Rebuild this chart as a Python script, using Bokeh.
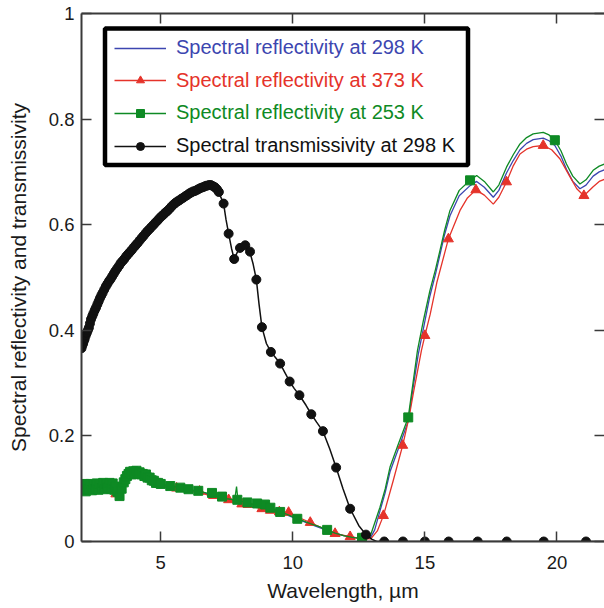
from bokeh.plotting import figure
from bokeh.models import (LinearAxis, FixedTicker, Legend, LegendItem, BoxAnnotation,
                          Range1d, ColumnDataSource)
from bokeh.embed import file_html
from bokeh.resources import INLINE

FONT = "Liberation Sans"

# ---------------- data ----------------
x_ticks = [5, 10, 15, 20]
x_tick_labels = ["5", "10", "15", "20"]
y_ticks = [0, 0.2, 0.4, 0.6, 0.8, 1.0]
y_tick_labels = ["0", "0.2", "0.4", "0.6", "0.8", "1"]

labels = ["Spectral reflectivity at 298 K",
          "Spectral reflectivity at 373 K",
          "Spectral reflectivity at 253 K",
          "Spectral transmissivity at 298 K"]

# reflectivity 298 K (blue line)
r298_x = [2.0, 2.5, 3.0, 3.4, 3.47, 3.55, 3.75, 4.1, 4.5, 5.0, 5.62, 6.25, 6.88, 7.5, 8.14, 8.77,
          9.4, 10.03, 10.66, 11.29, 11.92, 12.55, 12.93, 13.1, 13.3, 13.5, 13.68, 14.0, 14.37,
          14.55, 14.75, 14.97, 15.19, 15.4, 15.57, 15.75, 15.95, 16.3, 16.71, 16.96, 17.25, 17.59,
          17.8, 18.09, 18.35, 18.6, 18.85, 19.1, 19.48, 19.7, 19.92, 20.15, 20.36, 20.6, 20.87,
          21.1, 21.37, 21.6, 21.8]
r298_y = [0.103, 0.104, 0.107, 0.104, 0.090, 0.104, 0.126, 0.130, 0.124, 0.108, 0.102, 0.096,
          0.089, 0.080, 0.074, 0.067, 0.058, 0.045, 0.033, 0.021, 0.011, 0.006, 0.006, 0.022,
          0.058, 0.093, 0.132, 0.176, 0.228, 0.290, 0.355, 0.410, 0.465, 0.506, 0.543, 0.582,
          0.617, 0.655, 0.674, 0.682, 0.671, 0.652, 0.665, 0.698, 0.722, 0.742, 0.754, 0.761,
          0.764, 0.759, 0.750, 0.730, 0.705, 0.682, 0.668, 0.675, 0.692, 0.700, 0.704]

# reflectivity 373 K (red line + triangles)
r373_x = [2.0, 2.3, 2.6, 2.9, 3.2, 3.35, 3.43, 3.55, 3.75, 3.9, 4.1, 4.3, 4.5, 4.75, 5.0, 5.3,
          5.62, 5.9, 6.25, 6.47, 6.88, 7.2, 7.57, 7.85, 8.07, 8.4, 8.83, 9.15, 9.49, 9.84, 10.25,
          10.66, 11.1, 11.6, 12.17, 12.6, 12.95, 13.2, 13.43, 13.8, 14.16, 14.4, 14.56, 14.87,
          15.0, 15.2, 15.45, 15.89, 16.33, 16.6, 16.93, 17.25, 17.59, 17.8, 18.09, 18.35, 18.6,
          18.85, 19.1, 19.48, 19.8, 20.11, 20.5, 20.75, 21.02, 21.37, 21.6, 21.8]
r373_y = [0.103, 0.105, 0.104, 0.107, 0.108, 0.106, 0.090, 0.103, 0.126, 0.129, 0.130, 0.128,
          0.124, 0.116, 0.108, 0.104, 0.101, 0.098, 0.094, 0.094, 0.086, 0.081, 0.077, 0.074,
          0.071, 0.067, 0.062, 0.059, 0.056, 0.055, 0.045, 0.036, 0.026, 0.015, 0.009, 0.005,
          0.005, 0.020, 0.049, 0.115, 0.182, 0.235, 0.280, 0.362, 0.390, 0.430, 0.490, 0.573,
          0.627, 0.650, 0.666, 0.656, 0.639, 0.652, 0.681, 0.712, 0.734, 0.743, 0.748, 0.750,
          0.742, 0.725, 0.690, 0.668, 0.655, 0.672, 0.682, 0.686]
r373_mk_x = [2.1, 2.5, 2.9, 3.3, 5.0, 5.6, 6.47, 7.0, 7.57, 8.07, 8.31, 8.83, 9.15, 9.49, 9.84,
             10.66, 11.6, 12.17, 13.43, 14.16, 15.0, 15.89, 16.93, 18.09, 19.48, 21.02]
r373_mk_y = [0.104, 0.106, 0.107, 0.090, 0.108, 0.101, 0.095, 0.087, 0.079, 0.071, 0.070, 0.062,
             0.059, 0.056, 0.055, 0.036, 0.015, 0.009, 0.049, 0.182, 0.390, 0.573, 0.666, 0.681,
             0.750, 0.655]

# reflectivity 253 K (green line + squares)
r253_x = [2.0, 2.1, 2.2, 2.3, 2.4, 2.5, 2.6, 2.7, 2.8, 2.9, 3.0, 3.1, 3.2, 3.3, 3.4, 3.47, 3.55,
          3.65, 3.75, 3.9, 4.1, 4.3, 4.5, 4.75, 5.0, 5.3, 5.62, 5.9, 6.25, 6.55, 6.88, 7.2, 7.5,
          7.8, 7.87, 7.92, 8.0, 8.14, 8.45, 8.77, 8.9, 8.97, 9.1, 9.4, 9.7, 10.03, 10.35, 10.66,
          11.0, 11.29, 11.6, 11.92, 12.25, 12.55, 12.93, 13.1, 13.3, 13.5, 13.68, 14.0, 14.37,
          14.55, 14.72, 14.95, 15.19, 15.4, 15.57, 15.75, 15.95, 16.3, 16.71, 16.96, 17.25, 17.59,
          17.8, 18.09, 18.35, 18.6, 18.85, 19.1, 19.48, 19.7, 19.92, 20.15, 20.36, 20.6, 20.87,
          21.1, 21.37, 21.6, 21.8]
r253_y = [0.104, 0.100, 0.106, 0.101, 0.105, 0.103, 0.107, 0.104, 0.108, 0.105, 0.108, 0.106,
          0.109, 0.107, 0.104, 0.086, 0.104, 0.118, 0.127, 0.130, 0.131, 0.129, 0.125, 0.117,
          0.109, 0.106, 0.103, 0.100, 0.097, 0.094, 0.090, 0.085, 0.081, 0.079, 0.104, 0.080,
          0.077, 0.075, 0.071, 0.068, 0.076, 0.066, 0.064, 0.059, 0.053, 0.046, 0.040, 0.034,
          0.028, 0.022, 0.016, 0.011, 0.008, 0.006, 0.010, 0.035, 0.065, 0.100, 0.141, 0.185,
          0.235, 0.300, 0.362, 0.420, 0.475, 0.515, 0.551, 0.590, 0.627, 0.665, 0.684, 0.693,
          0.682, 0.662, 0.675, 0.709, 0.733, 0.753, 0.765, 0.772, 0.775, 0.770, 0.760, 0.740,
          0.715, 0.692, 0.677, 0.685, 0.703, 0.711, 0.715]
r253_mk_x = [2.0, 2.05, 2.1, 2.16, 2.22, 2.28, 2.34, 2.4, 2.46, 2.52, 2.58, 2.64, 2.7, 2.76, 2.82,
             2.88, 2.94, 3.0, 3.06, 3.12, 3.18, 3.24, 3.3, 3.36, 3.44, 3.52, 3.6, 3.66, 3.72,
             3.78, 3.84, 3.9, 3.96, 4.02, 4.08, 4.14, 4.2, 4.26, 4.32, 4.38, 4.44, 4.5, 4.58,
             4.66, 4.74, 4.82, 4.9, 5.0, 5.36, 5.74, 6.05, 6.42, 6.94, 7.32, 7.9, 8.28, 8.65,
             8.95, 9.15, 9.52, 10.17, 11.3, 12.62, 14.37, 16.71, 19.92]
r253_mk_y = [0.106, 0.097, 0.109, 0.095, 0.108, 0.099, 0.109, 0.097, 0.108, 0.099, 0.110, 0.098,
             0.109, 0.101, 0.111, 0.099, 0.109, 0.102, 0.111, 0.100, 0.110, 0.098, 0.104, 0.094,
             0.086, 0.100, 0.112, 0.118, 0.124, 0.128, 0.132, 0.127, 0.133, 0.128, 0.134, 0.129,
             0.131, 0.127, 0.128, 0.124, 0.127, 0.121, 0.121, 0.116, 0.115, 0.111, 0.111, 0.109,
             0.105, 0.102, 0.099, 0.096, 0.092, 0.085, 0.079, 0.074, 0.072, 0.070, 0.064, 0.056,
             0.043, 0.022, 0.007, 0.235, 0.684, 0.760]

# transmissivity 298 K (black line + circles)
t298_x = [2.0, 2.1, 2.2, 2.34, 2.5, 2.65, 2.84, 3.0, 3.2, 3.47, 3.7, 3.9, 4.1, 4.35, 4.6, 4.86,
          5.1, 5.35, 5.62, 5.9, 6.25, 6.5, 6.81, 7.0, 7.13, 7.25, 7.38, 7.47, 7.57, 7.68, 7.78,
          7.9, 8.01, 8.2, 8.36, 8.5, 8.62, 8.72, 8.83, 9.0, 9.17, 9.35, 9.52, 9.7, 9.88, 10.05,
          10.25, 10.5, 10.7, 10.9, 11.14, 11.4, 11.64, 11.9, 12.17, 12.5, 12.77, 13.0, 13.18,
          13.46, 14.17, 15.0, 15.9, 17.0, 18.1, 19.5, 21.1, 21.8]
t298_y = [0.366, 0.385, 0.400, 0.419, 0.438, 0.455, 0.475, 0.490, 0.505, 0.526, 0.540, 0.552,
          0.564, 0.580, 0.595, 0.608, 0.620, 0.633, 0.646, 0.655, 0.665, 0.670, 0.674, 0.672,
          0.665, 0.655, 0.640, 0.610, 0.583, 0.555, 0.535, 0.548, 0.557, 0.561, 0.551, 0.525,
          0.496, 0.450, 0.406, 0.375, 0.359, 0.348, 0.337, 0.320, 0.303, 0.290, 0.277, 0.258,
          0.241, 0.226, 0.209, 0.175, 0.140, 0.100, 0.062, 0.030, 0.013, 0.004, 0.0, 0.0, 0.0,
          0.0, 0.0, 0.0, 0.0, 0.0, 0.0, 0.0]
t298_mk_x = [2.0, 2.03, 2.06, 2.09, 2.12, 2.16, 2.2, 2.24, 2.28, 2.32, 2.36, 2.41, 2.45, 2.5,
             2.55, 2.6, 2.65, 2.7, 2.75, 2.8, 2.86, 2.92, 2.98, 3.04, 3.1, 3.16, 3.22, 3.28,
             3.35, 3.42, 3.48, 3.55, 3.62, 3.69, 3.76, 3.83, 3.9, 3.98, 4.05, 4.12, 4.2, 4.28,
             4.35, 4.43, 4.5, 4.58, 4.65, 4.73, 4.8, 4.88, 4.95, 5.03, 5.1, 5.18, 5.25, 5.33,
             5.4, 5.48, 5.55, 5.63, 5.7, 5.78, 5.85, 5.93, 6.0, 6.08, 6.15, 6.23, 6.3, 6.38,
             6.45, 6.53, 6.6, 6.68, 6.75, 6.83, 6.9, 6.98, 7.05, 7.13, 7.2, 7.38, 7.57, 7.78,
             8.0, 8.2, 8.38, 8.62, 8.83, 9.17, 9.52, 9.88, 10.25, 10.7, 11.14, 11.64, 12.17,
             12.77, 13.46, 14.17, 15.0, 15.9, 17.0, 18.1, 19.5, 21.1]
t298_mk_y = [0.366, 0.371, 0.375, 0.380, 0.384, 0.390, 0.395, 0.400, 0.405, 0.413, 0.421, 0.427,
             0.432, 0.438, 0.443, 0.449, 0.455, 0.461, 0.466, 0.471, 0.477, 0.483, 0.488, 0.493,
             0.497, 0.502, 0.507, 0.512, 0.517, 0.522, 0.527, 0.531, 0.535, 0.540, 0.544, 0.548,
             0.552, 0.557, 0.561, 0.565, 0.570, 0.575, 0.579, 0.584, 0.588, 0.592, 0.596, 0.600,
             0.604, 0.608, 0.612, 0.616, 0.619, 0.623, 0.626, 0.630, 0.634, 0.638, 0.641, 0.644,
             0.646, 0.649, 0.651, 0.654, 0.656, 0.659, 0.661, 0.663, 0.664, 0.666, 0.668, 0.670,
             0.671, 0.673, 0.674, 0.675, 0.675, 0.673, 0.671, 0.667, 0.662, 0.640, 0.583, 0.535,
             0.556, 0.561, 0.549, 0.496, 0.406, 0.359, 0.337, 0.303, 0.277, 0.241, 0.209, 0.140,
             0.062, 0.013, 0.0, 0.0, 0.0, 0.0, 0.0, 0.0, 0.0, 0.0]

# ---------------- styling ----------------
BLUE = "#3c46b0"
RED = "#e5332a"
GREEN = "#0e8a24"
BLACK = "#111111"
AXIS = "#3a3a3a"

p = figure(width=604, height=604, x_range=Range1d(2, 21.8), y_range=Range1d(0, 1),
           output_backend="svg", toolbar_location=None,
           min_border_left=81, min_border_right=0, min_border_top=13, min_border_bottom=63)
p.outline_line_color = None
p.xgrid.grid_line_color = None
p.ygrid.grid_line_color = None
p.background_fill_color = "white"
p.border_fill_color = "white"

def style_axis(ax, ticks, tick_labels, show_labels=True, line=True):
    ax.ticker = FixedTicker(ticks=ticks)
    ax.major_label_overrides = dict(zip(ticks, tick_labels))
    ax.major_tick_in = 10
    ax.major_tick_out = 0
    ax.minor_tick_in = 0
    ax.minor_tick_out = 0
    ax.major_tick_line_color = AXIS
    ax.major_tick_line_width = 1.5
    ax.axis_line_color = AXIS if line else None
    ax.axis_line_width = 2
    ax.major_label_text_font = FONT
    ax.major_label_text_color = "#1a1a1a"
    if show_labels:
        ax.major_label_text_font_size = "18.5px"
    else:
        ax.major_label_text_font_size = "0px"
        ax.major_label_standoff = 0

style_axis(p.xaxis[0], x_ticks, x_tick_labels)
style_axis(p.yaxis[0], y_ticks, y_tick_labels)
p.xaxis[0].major_label_standoff = 14
p.yaxis[0].major_label_standoff = 7
p.xaxis[0].axis_label = "Wavelength, \u00b5m"
p.yaxis[0].axis_label = "Spectral reflectivity and transmissivity"
for ax in (p.xaxis[0], p.yaxis[0]):
    ax.axis_label_text_font = FONT
    ax.axis_label_text_font_size = "21px"
    ax.axis_label_text_font_style = "normal"
    ax.axis_label_text_color = "#1a1a1a"
p.xaxis[0].axis_label_standoff = 7
p.yaxis[0].axis_label_standoff = 16

top_ax = LinearAxis()
style_axis(top_ax, x_ticks, ["" for _ in x_ticks], show_labels=False)
p.add_layout(top_ax, "above")
right_ax = LinearAxis()
style_axis(right_ax, y_ticks, ["" for _ in y_ticks], show_labels=False, line=False)
p.add_layout(right_ax, "right")

# ---------------- glyphs ----------------
blue_line = p.line(x="x", y="y", source=ColumnDataSource(dict(x=r298_x, y=r298_y)),
                   line_color=BLUE, line_width=1.3)
red_line = p.line(x="x", y="y", source=ColumnDataSource(dict(x=r373_x, y=r373_y)),
                  line_color=RED, line_width=1.3)
red_mk = p.scatter(x="x", y="y", source=ColumnDataSource(dict(x=r373_mk_x, y=r373_mk_y)),
                   marker="triangle", size=10, fill_color=RED, line_color=RED)
green_line = p.line(x="x", y="y", source=ColumnDataSource(dict(x=r253_x, y=r253_y)),
                    line_color=GREEN, line_width=1.3)
green_mk = p.scatter(x="x", y="y", source=ColumnDataSource(dict(x=r253_mk_x, y=r253_mk_y)),
                     marker="square", size=9, fill_color=GREEN, line_color=GREEN)
black_line = p.line(x="x", y="y", source=ColumnDataSource(dict(x=t298_x, y=t298_y)),
                    line_color=BLACK, line_width=1.5)
black_mk = p.scatter(x="x", y="y", source=ColumnDataSource(dict(x=t298_mk_x, y=t298_mk_y)),
                     marker="circle", size=9, fill_color=BLACK, line_color=BLACK)

# ---------------- legend ----------------
box = BoxAnnotation(left=23.5, right=386.5, bottom=376.5, top=513,
                    left_units="screen", right_units="screen",
                    top_units="screen", bottom_units="screen",
                    fill_color="white", fill_alpha=1.0,
                    line_color="black", line_width=4.5, line_alpha=1.0)
p.add_layout(box)

entries = [(labels[0], [blue_line], BLUE),
           (labels[1], [red_line, red_mk], RED),
           (labels[2], [green_line, green_mk], GREEN),
           (labels[3], [black_line, black_mk], BLACK)]
for i, (lab, rends, col) in enumerate(entries):
    lg = Legend(items=[LegendItem(label=lab, renderers=rends)],
                location=(33, 482 - 32.7 * i),
                padding=0, margin=0, spacing=0,
                glyph_width=52, glyph_height=20, label_height=20, label_standoff=10,
                border_line_color=None, background_fill_alpha=0.0,
                label_text_font=FONT, label_text_font_size="20px",
                label_text_color=col)
    p.add_layout(lg)

open("out.html", "w").write(file_html(p, INLINE, title="Spectral reflectivity and transmissivity"))
